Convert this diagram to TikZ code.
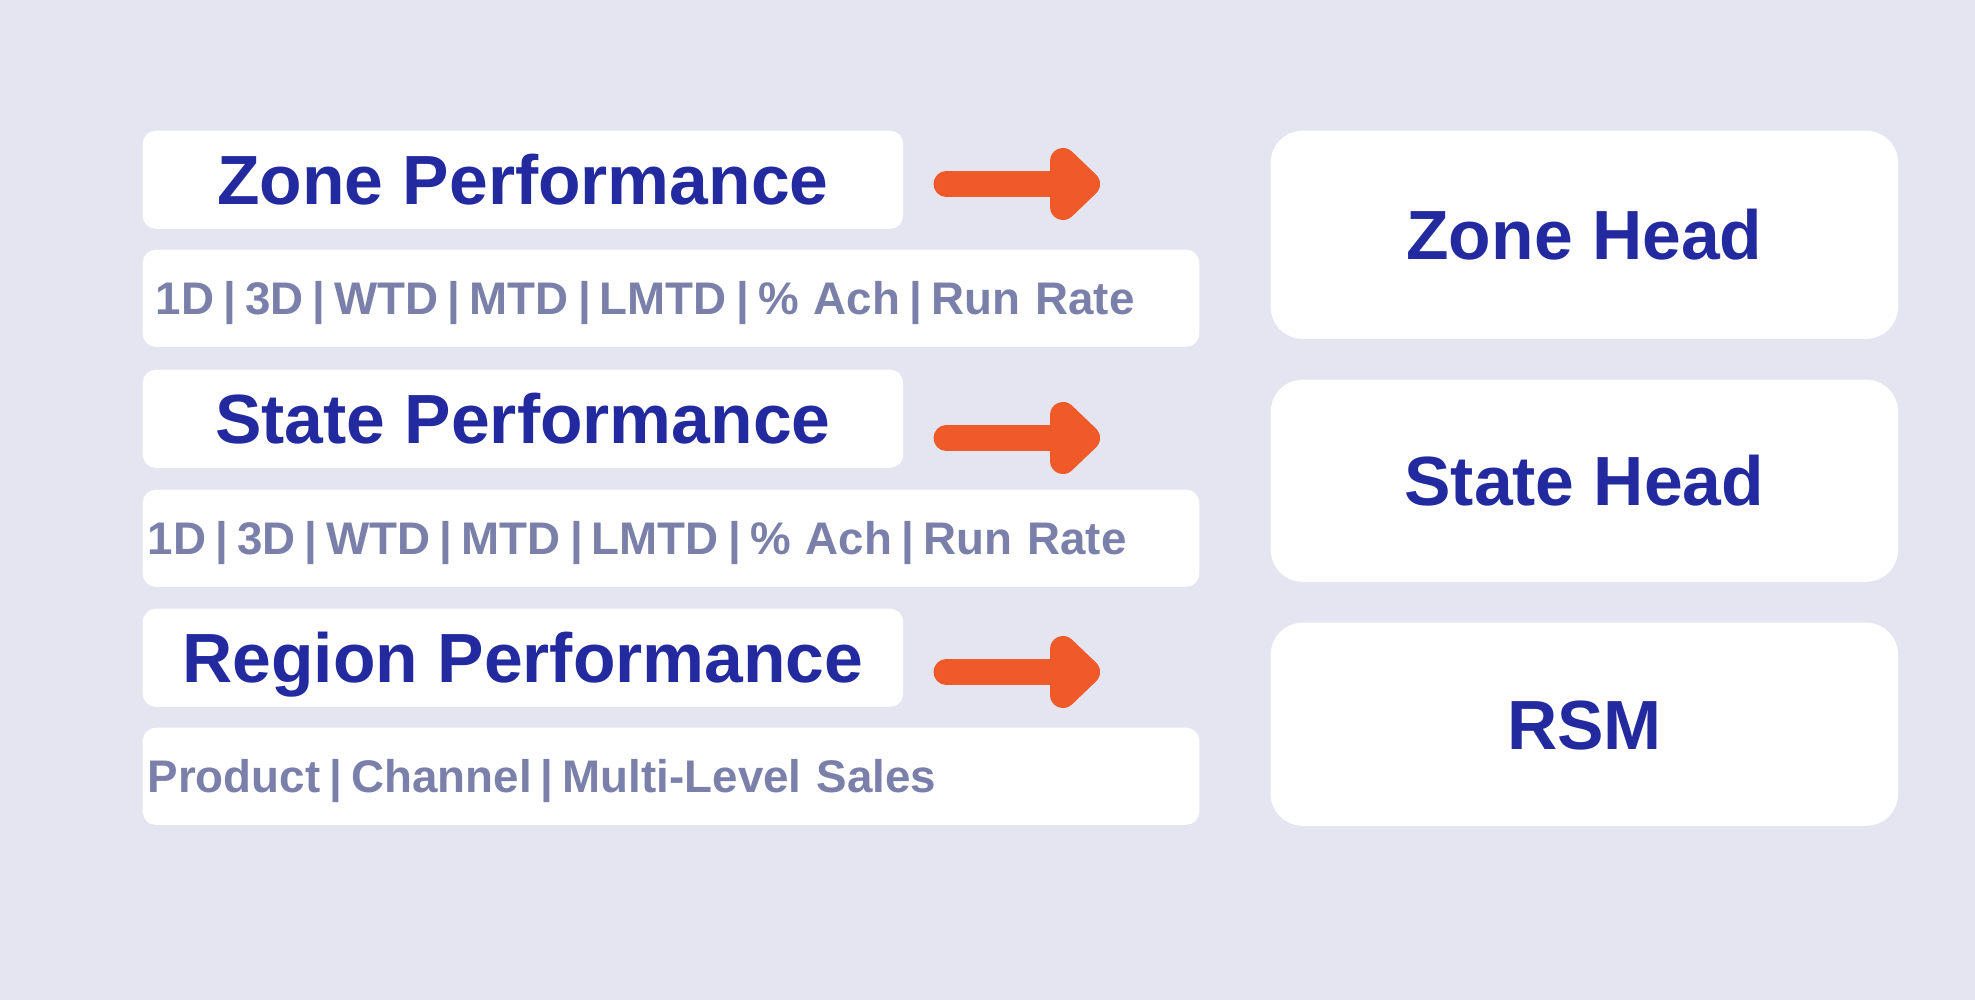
\documentclass[tikz,border=0pt]{standalone}
\usepackage{fontspec}
\setmainfont{Liberation Sans}
\usepackage{tikz}
\usetikzlibrary{arrows.meta}

\definecolor{pagebg}{RGB}{228,229,240}
\definecolor{navy}{RGB}{35,42,160}
\definecolor{slate}{RGB}{122,128,170}
\definecolor{flame}{RGB}{240,90,40}

\newcommand{\metricsep}{\hspace{0.2em}|\hspace{0.2em}}

\tikzset{
  perfbox/.style={fill=white, rounded corners=0.13cm, anchor=north west,
    minimum width=7.6cm, minimum height=0.98cm, inner sep=0pt,
    text=navy, font=\bfseries\fontsize{19.8}{24}\selectfont,
    text height=14.2pt, text depth=0pt},
  metricbox/.style={fill=white, rounded corners=0.13cm, anchor=north west,
    minimum height=0.97cm, inner ysep=0pt, align=left,
    text=slate, font=\bfseries\fontsize{13}{16}\selectfont,
    text height=9.3pt, text depth=0pt},
  rolebox/.style={fill=white, rounded corners=0.32cm, anchor=north west,
    minimum width=6.27cm, inner sep=0pt,
    text=navy, font=\bfseries\fontsize{19.8}{24}\selectfont,
    text height=14.2pt, text depth=0pt},
  shaft/.style={draw=flame, line width=0.25cm, line cap=round},
  tiphead/.style={draw=flame, fill=flame, line width=0.26cm, line join=round}
}

\begin{document}
\begin{tikzpicture}[x=0.01cm, y=-0.01cm]
  \fill[pagebg] (0,0) rectangle (1975,1000);
  \useasboundingbox (0,0) rectangle (1975,1000);

  % left column
  \node[perfbox] (zoneperf) at (142,130) {Zone Performance};
  \node[metricbox, inner xsep=0.13cm, text width=10.3cm] (zonemetric) at (142,249)
    {1D\metricsep 3D\metricsep WTD\metricsep MTD\metricsep LMTD\metricsep \% Ach\metricsep Run Rate};

  \node[perfbox] (stateperf) at (142,369) {State Performance};
  \node[metricbox, inner xsep=0.05cm, text width=10.46cm] (statemetric) at (142,489)
    {1D\metricsep 3D\metricsep WTD\metricsep MTD\metricsep LMTD\metricsep \% Ach\metricsep Run Rate};

  \node[perfbox] (regionperf) at (142,608) {Region Performance};
  \node[metricbox, inner xsep=0.05cm, text width=10.46cm] (regionmetric) at (142,727)
    {Product\metricsep Channel\metricsep Multi-Level Sales};

  % right column
  \node[rolebox, minimum height=2.08cm] (zonehead) at (1270,130) {Zone Head};
  \node[rolebox, minimum height=2.02cm] (statehead) at (1270,379) {State Head};
  \node[rolebox, minimum height=2.03cm] (rsm) at (1270,622) {RSM};

  % arrows
  \coordinate (zonefrom) at (946,184);
  \coordinate (zoneto) at (1063,184);
  \draw[shaft] (zonefrom) -- (zoneto);
  \filldraw[tiphead] (1063,161) -- (1087,184) -- (1063,207) -- cycle;

  \coordinate (statefrom) at (946,438);
  \coordinate (stateto) at (1063,438);
  \draw[shaft] (statefrom) -- (stateto);
  \filldraw[tiphead] (1063,415) -- (1087,438) -- (1063,461) -- cycle;

  \coordinate (regionfrom) at (946,672);
  \coordinate (regionto) at (1063,672);
  \draw[shaft] (regionfrom) -- (regionto);
  \filldraw[tiphead] (1063,649) -- (1087,672) -- (1063,695) -- cycle;
\end{tikzpicture}
\end{document}
